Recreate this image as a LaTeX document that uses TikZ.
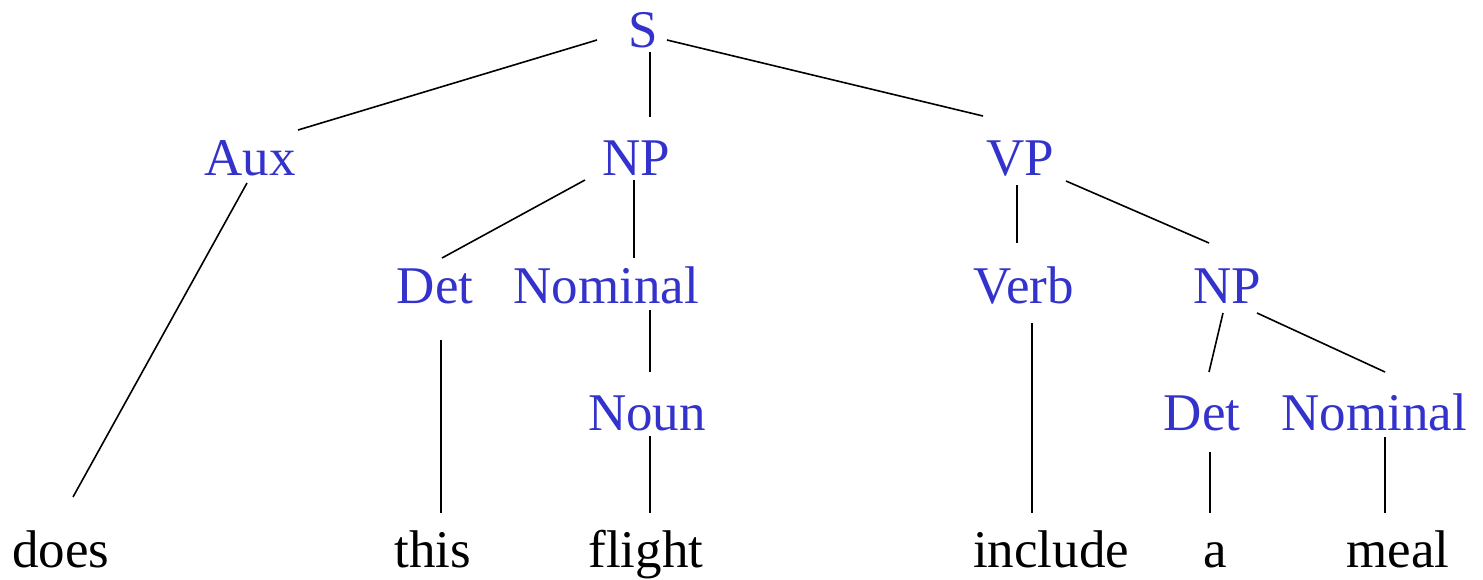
\documentclass[tikz,border=0pt]{standalone}
\usepackage{fontspec}
\setmainfont{Liberation Serif}
\definecolor{cat}{RGB}{51,51,204}
\begin{document}
\begin{tikzpicture}[x=1pt,y=-1pt,
  lbl/.style={inner sep=0pt, anchor=base, font=\fontsize{53}{60}\selectfont},
  phrase/.style={lbl, text=cat},
  word/.style={lbl, text=black},
  edge/.style={line width=1.6pt, black}]
\useasboundingbox (0,0) rectangle (1483,579);

% category labels
\node[phrase] (S)    at (643,47)  {S};
\node[phrase] (Aux)  at (250,175) {Aux};
\node[phrase] (NP)   at (636,175) {NP};
\node[phrase] (VP)   at (1020,175) {VP};
\node[phrase] (Det)  at (435,303) {Det};
\node[phrase] (Nom)  at (606,303) {Nominal};
\node[phrase] (Verb) at (1024,303) {Verb};
\node[phrase] (NPb)  at (1227,303) {NP};
\node[phrase] (Noun) at (647,430) {Noun};
\node[phrase] (Detb) at (1202,430) {Det};
\node[phrase] (Nomb) at (1374,430) {Nominal};

% words
\node[word] (does)    at (61,567)   {does};
\node[word] (this)    at (433,567)  {this};
\node[word] (flight)  at (646,567)  {flight};
\node[word] (include) at (1051,567) {include};
\node[word] (a)       at (1215,567) {a};
\node[word] (meal)    at (1398,567) {meal};

% branch end points
\coordinate (S-l) at (597,40);   \coordinate (Aux-t) at (298,130);
\coordinate (S-m) at (650,52);   \coordinate (NP-t) at (650,117);
\coordinate (S-r) at (667,40);   \coordinate (VP-t) at (983,116);
\coordinate (Aux-b) at (247,183); \coordinate (does-t) at (73,497);
\coordinate (NP-l) at (585,180); \coordinate (Det-t) at (442,258);
\coordinate (NP-m) at (634,180); \coordinate (Nom-t) at (634,258);
\coordinate (VP-m) at (1017,185); \coordinate (Verb-t) at (1017,243);
\coordinate (VP-r) at (1066,181); \coordinate (NPb-t) at (1209,243);
\coordinate (Det-b) at (441,340); \coordinate (this-t) at (441,513);
\coordinate (Nom-b) at (650,310); \coordinate (Noun-t) at (650,372);
\coordinate (Verb-b) at (1032,323); \coordinate (include-t) at (1032,513);
\coordinate (NPb-l) at (1223,313); \coordinate (Detb-t) at (1209,372);
\coordinate (NPb-r) at (1257,313); \coordinate (Nomb-t) at (1385,372);
\coordinate (Noun-b) at (650,436); \coordinate (flight-t) at (650,513);
\coordinate (Detb-b) at (1210,452); \coordinate (a-t) at (1210,513);
\coordinate (Nomb-b) at (1385,437); \coordinate (meal-t) at (1385,513);

% branches
\draw[edge] (S-l) -- (Aux-t);
\draw[edge] (S-m) -- (NP-t);
\draw[edge] (S-r) -- (VP-t);
\draw[edge] (Aux-b) -- (does-t);
\draw[edge] (NP-l) -- (Det-t);
\draw[edge] (NP-m) -- (Nom-t);
\draw[edge] (VP-m) -- (Verb-t);
\draw[edge] (VP-r) -- (NPb-t);
\draw[edge] (Det-b) -- (this-t);
\draw[edge] (Nom-b) -- (Noun-t);
\draw[edge] (Verb-b) -- (include-t);
\draw[edge] (NPb-l) -- (Detb-t);
\draw[edge] (NPb-r) -- (Nomb-t);
\draw[edge] (Noun-b) -- (flight-t);
\draw[edge] (Detb-b) -- (a-t);
\draw[edge] (Nomb-b) -- (meal-t);
\end{tikzpicture}
\end{document}
